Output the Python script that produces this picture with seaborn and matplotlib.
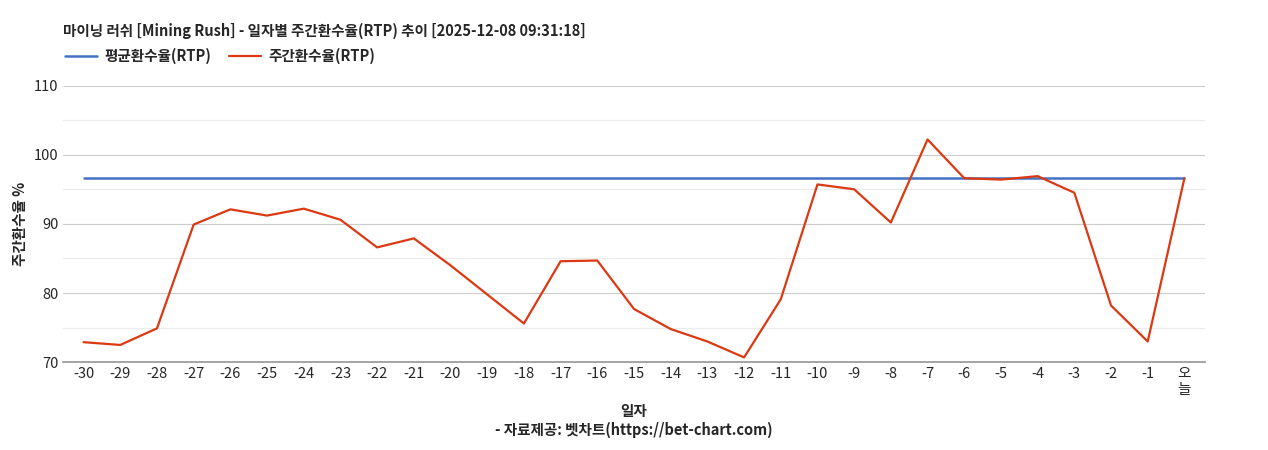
import matplotlib
matplotlib.use("Agg")
import matplotlib.pyplot as plt
import seaborn as sns
import pandas as pd

sns.set_theme(style="white")
plt.rcParams['font.family'] = ['Noto Sans CJK KR', 'DejaVu Sans']

labels = [str(i) for i in range(-30, 0)] + ["오\n늘"]
weekly = [72.9, 72.5, 74.9, 89.9, 92.1, 91.2, 92.2, 90.6, 86.6, 87.9, 84.0, 79.8, 75.6,
          84.6, 84.7, 77.7, 74.8, 73.0, 70.7, 79.1, 95.7, 95.0, 90.2, 102.2, 96.6, 96.4,
          96.9, 94.5, 78.2, 73.0, 96.6]
avg = [96.6] * len(labels)

df = pd.DataFrame({"x": range(len(labels)), "avg": avg, "weekly": weekly})

fig, ax = plt.subplots(figsize=(12.68, 4.5), dpi=100)
fig.subplots_adjust(left=0.05, right=0.95, top=0.81, bottom=0.195)
sns.lineplot(data=df, x="x", y="avg", ax=ax, color="#4472c4", lw=1.8, label="평균환수율(RTP)")
sns.lineplot(data=df, x="x", y="weekly", ax=ax, color="#dc3912", lw=1.6, label="주간환수율(RTP)")

ax.set_ylim(70, 110)
ax.set_xlim(-0.55, len(labels) - 0.45)
ax.set_yticks([70, 80, 90, 100, 110])
ax.set_yticks([75, 85, 95, 105], minor=True)
ax.grid(axis="y", which="major", color="#cccccc", lw=0.8)
ax.grid(axis="y", which="minor", color="#ebebeb", lw=0.8)
ax.set_xticks(range(len(labels)))
ax.set_xticklabels(labels, fontsize=10.5)
ax.tick_params(axis="y", labelsize=10.5, length=0)
ax.tick_params(axis="x", length=0)
for s in ["top", "right", "left"]:
    ax.spines[s].set_visible(False)
ax.spines["bottom"].set_color("#999999")
ax.set_ylabel("주간환수율 %", fontsize=10.5, fontweight="bold")
ax.set_xlabel("일자\n- 자료제공: 벳차트(https://bet-chart.com)", fontsize=10.5, fontweight="bold")
leg = ax.legend(loc="lower left", bbox_to_anchor=(-0.01, 1.03), ncol=2, frameon=False,
                prop={"weight": "bold", "size": 10.5}, handlelength=2.2, columnspacing=1.2,
                handletextpad=0.5)
fig.text(0.05, 0.92, "마이닝 러쉬 [Mining Rush] - 일자별 주간환수율(RTP) 추이 [2025-12-08 09:31:18]",
         fontsize=10.5, fontweight="bold")
fig.savefig("out.png")
